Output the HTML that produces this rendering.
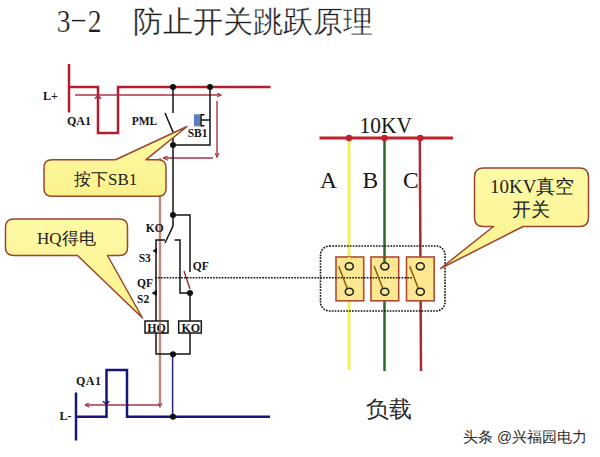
<!DOCTYPE html>
<html><head><meta charset="utf-8">
<style>
html,body{margin:0;padding:0;background:#fff;width:600px;height:457px;overflow:hidden}
svg{position:absolute;left:0;top:0}
.lb{font-family:"Liberation Serif",serif;font-weight:bold;font-size:11.5px;fill:#151515}
.bx{font-family:"Liberation Serif",serif;font-weight:bold;font-size:12px;fill:#151515}
.cj{font-family:"Liberation Sans",sans-serif}
.sf{font-family:"Liberation Serif",serif}
</style></head><body>
<svg width="600" height="457" viewBox="0 0 600 457">
<defs>
<marker id="ar" viewBox="0 0 10 10" refX="9" refY="5" markerWidth="5" markerHeight="5" markerUnits="userSpaceOnUse" orient="auto"><path d="M0,0.5 L9.5,5 L0,9.5" fill="none" stroke="#a83444" stroke-width="2.2"/></marker>
<marker id="ar2" viewBox="0 0 10 10" refX="9" refY="5" markerWidth="5" markerHeight="5" markerUnits="userSpaceOnUse" orient="auto"><path d="M0,0.5 L9.5,5 L0,9.5" fill="none" stroke="#b05048" stroke-width="2.2"/></marker>
<linearGradient id="cg" x1="0" y1="0" x2="0" y2="1"><stop offset="0" stop-color="#fdfaa6"/><stop offset="1" stop-color="#fbf28c"/></linearGradient>
</defs>

<!-- Title -->
<g fill="#1e1e1e">
<text class="sf" stroke="#fff" stroke-width="0.2" style="font-size:32px" transform="translate(56.8,31.6) scale(0.86,1)">3</text>
<path d="M72,20.6 H85.3" stroke="#1e1e1e" stroke-width="1.5"/>
<text class="sf" stroke="#fff" stroke-width="0.2" style="font-size:32px" transform="translate(87.8,31.6) scale(0.86,1)">2</text>
<text x="133" y="32.4" class="cj" style="font-size:30px" stroke="#fff" stroke-width="0.3">防止开关跳跃原理</text>
</g>

<!-- Left red supply -->
<g fill="none" stroke="#b01e30" stroke-width="2.5">
<path d="M69,64 V112.5"/>
<path d="M69,87 H98 V133 H118 V87 H270.5"/>
</g>
<!-- red thin arrows -->
<path d="M160,158 V404" stroke="#fae6e0" stroke-width="4.5"/>

<g fill="none" stroke="#a83444" stroke-width="1.4">
<path d="M75,95 H221" marker-end="url(#ar)"/>
<path d="M217,101 V157" marker-end="url(#ar)"/>
<path d="M213,158 H163.5" marker-end="url(#ar)"/>
<path d="M95,98.8 L98,95.3 L101,98.8" stroke-width="1.5"/>
<path d="M160,158 V407" marker-end="url(#ar2)" stroke="#a8706a" stroke-width="1.6"/>
<path d="M160,405 H85" marker-end="url(#ar)"/>
</g>

<!-- black control circuit -->
<g fill="none" stroke="#151515" stroke-width="1.5">
<path d="M173,87 V113"/>
<path d="M165,113 L173,132 V215"/>
<path d="M173,145 H210 V87"/>
<path d="M201,120 H210"/>
<path d="M204.5,114.7 H201 V125.7 H204.5" stroke-width="1.6"/>
<path d="M173,215 H190 V272"/>
<path d="M173,215 V226 L165,243"/>
<path d="M165,240 H156 V321"/>
<path d="M174.5,240 H180 V293 H190 V321"/>
<path d="M156,333 V354 H190 V333"/>
</g>
<rect x="194" y="114.3" width="6" height="12" fill="#5b7fb8"/>
<path d="M184,271 L190,289" stroke="#8a3038" stroke-width="1.4"/>
<path d="M157,247.5 L152.5,251 L157,253.5Z M157,289.5 L151.5,293.3 L157,296Z" fill="#151515"/>
<path d="M172.6,354 V416" stroke="#262670" stroke-width="1.5"/>
<!-- boxes -->
<rect x="145" y="321" width="23" height="12" fill="#fff" stroke="#151515" stroke-width="1.5"/>
<rect x="178.7" y="321" width="22.6" height="12" fill="#fff" stroke="#151515" stroke-width="1.5"/>
<text x="156.5" y="331.5" class="bx" text-anchor="middle">HQ</text>
<text x="190.8" y="331.5" class="bx" text-anchor="middle">KO</text>
<path d="M160,321 V333" stroke="#a8706a" stroke-width="1.6"/>

<!-- blue supply -->
<g fill="none" stroke="#16167a" stroke-width="2.5">
<path d="M76,392.5 V440.5"/>
<path d="M76,416.8 H106.5 V370 H127 V416.8 H270"/>
</g>
<path d="M103,401.2 L106.2,404 L109.4,401.2" fill="none" stroke="#16167a" stroke-width="1.5"/>

<!-- dots -->
<g fill="#111">
<circle cx="173" cy="87" r="3"/><circle cx="210" cy="87" r="3"/>
<circle cx="173" cy="145" r="3"/><circle cx="173" cy="215" r="3"/>
<circle cx="190" cy="293" r="3"/><circle cx="173" cy="354.3" r="3"/>
<circle cx="173" cy="416.8" r="3"/>
</g>

<!-- dotted link -->
<!-- labels -->
<text x="43" y="99.5" class="lb" style="font-size:12px">L+</text>
<text x="67" y="124.5" class="lb" style="font-size:12px" textLength="24" lengthAdjust="spacing">QA1</text>
<text x="131.7" y="124.5" class="lb">PML</text>
<text x="187.7" y="136.6" class="lb">SB1</text>
<text x="145.8" y="231.7" class="lb">KO</text>
<text x="138.7" y="262.2" class="lb">S3</text>
<text x="192.7" y="270.1" class="lb">QF</text>
<text x="137" y="286.8" class="lb">QF</text>
<text x="137" y="303.2" class="lb">S2</text>
<text x="76" y="385" class="lb" style="font-size:12px" textLength="25" lengthAdjust="spacing">QA1</text>
<text x="59.5" y="420" class="lb" style="font-size:12px">L-</text>

<!-- Right side -->
<path d="M319.5,138 H453" stroke="#c0202a" stroke-width="3"/>
<path d="M349,138 V370" stroke="#f2ee5a" stroke-width="3"/>
<path d="M384.5,138 V371" stroke="#2a6a30" stroke-width="2.5"/>
<path d="M419.8,138 L421,371" stroke="#a82a34" stroke-width="2.5"/>
<g fill="#c0202a"><circle cx="349" cy="138" r="3.2"/><circle cx="384.5" cy="138" r="3.2"/><circle cx="420.3" cy="138" r="3.2"/></g>
<g class="sf" fill="#151515" style="font-size:23.5px">
<text x="359.6" y="133" textLength="52.4" lengthAdjust="spacingAndGlyphs">10KV</text>
<text x="320" y="188">A</text>
<text x="362.5" y="188">B</text>
<text x="403" y="188">C</text>
</g>

<rect x="320.5" y="246" width="124.5" height="65" rx="9" fill="none" stroke="#151515" stroke-width="1.6" stroke-dasharray="1.7,1.2"/>

<g fill="#fde892" stroke="#b04a30" stroke-width="1.6">
<rect x="336" y="257" width="27.7" height="43.8"/>
<rect x="371" y="257" width="27.7" height="43.8"/>
<rect x="406.5" y="257" width="27.7" height="43.8"/>
</g>
<path d="M155,277.7 H412" stroke="#151515" stroke-width="1.6" stroke-dasharray="1.7,1.2"/>
<path d="M349,257 V262" stroke="#f2ee5a" stroke-width="2.5"/>
<path d="M384.5,257 V262" stroke="#2a6a30" stroke-width="2.5"/>
<g fill="none" stroke="#8a5a10" stroke-width="1.5">
<path d="M338.7,266.3 L347.5,289"/>
<path d="M374.2,266.3 L383,289"/>
<path d="M409.7,266.3 L418.5,289"/>
</g>
<g fill="#fde892" stroke="#222" stroke-width="1.6">
<ellipse cx="349.3" cy="266.3" rx="4" ry="3.5"/><ellipse cx="349.3" cy="291.7" rx="4" ry="3.5"/>
<ellipse cx="384.8" cy="266.3" rx="4" ry="3.5"/><ellipse cx="384.8" cy="291.7" rx="4" ry="3.5"/>
<ellipse cx="420.3" cy="266.3" rx="4" ry="3.5"/><ellipse cx="420.3" cy="291.7" rx="4" ry="3.5"/>
</g>

<text x="365.5" y="417" class="cj" style="font-size:23px" fill="#2a2a2a">负载</text>

<!-- callouts -->
<g fill="url(#cg)" stroke="#9a4530" stroke-width="1.5" stroke-linejoin="round">
<path d="M52,159.7 H115.5 L187,126.5 L146,159.7 H158 Q166,159.7 166,167.7 V188.5 Q166,196.3 158,196.3 H52 Q44,196.3 44,188.5 V167.7 Q44,159.7 52,159.7Z"/>
<path d="M14,219 H119.5 Q127.5,219 127.5,227 V247.5 Q127.5,255.5 119.5,255.5 H107.5 L142.5,318 L77.5,255.5 H14 Q5.5,255.5 5.5,247.5 V227 Q5.5,219 14,219Z"/>
<path d="M483.5,168 H579.5 Q588.5,168 588.5,177 V217.5 Q588.5,226.5 579.5,226.5 H523 L440.5,268.5 L493.5,226.5 H483.5 Q474.5,226.5 474.5,217.5 V177 Q474.5,168 483.5,168Z"/>
</g>
<g class="cj" fill="#222" style="font-size:17px">
<text x="74" y="185">按下<tspan class="sf">SB1</tspan></text>
<text x="37" y="244"><tspan class="sf">HQ</tspan>得电</text>
<text x="490" y="193" style="font-size:19px"><tspan class="sf">10KV</tspan>真空</text>
<text x="512" y="216" style="font-size:19px">开关</text>
</g>

<!-- watermark -->
<text x="463" y="442" class="cj" style="font-size:14.8px" fill="#2e2e2e">头条 @兴福园电力</text>
</svg>
</body></html>
